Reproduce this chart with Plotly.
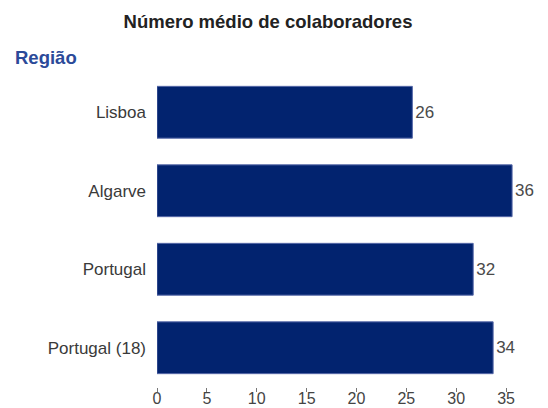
import plotly.graph_objects as go

categories = ["Lisboa", "Algarve", "Portugal", "Portugal (18)"]
values = [25.6, 35.6, 31.7, 33.7]
value_labels = ["26", "36", "32", "34"]
tick_vals = [0, 5, 10, 15, 20, 25, 30, 35, 40]

FONT = "Liberation Sans, Arial, sans-serif"

# page has an 8px body margin, so figure is 540x400 placed at (8, 8)
W, H = 540, 400
L, T, B = 149, 65, 21
PW, PH = W - L, H - T - B

fig = go.Figure(go.Bar(
    x=values,
    y=categories,
    orientation="h",
    text=value_labels,
    textposition="outside",
    cliponaxis=False,
    textfont=dict(family=FONT, size=17, color="#4a4a4a"),
    marker=dict(color="#02236f", line=dict(color="#5668a8", width=1)),
))

fig.update_layout(
    width=W, height=H,
    margin=dict(l=L, r=0, t=T, b=B),
    paper_bgcolor="white", plot_bgcolor="white",
    bargap=0.34,
    showlegend=False,
    font=dict(family=FONT, size=17, color="#333333"),
    title=dict(text="<b>Número médio de colaboradores</b>", x=260 / W, xanchor="center",
               yref="container", y=1 - 14 / H, yanchor="middle",
               font=dict(size=18.5, color="#222222")),
    annotations=[dict(text="<b>Região</b>", xref="paper", yref="paper",
                      x=(5 - L) / PW, y=1 + (T - 49) / PH, xanchor="left", yanchor="middle",
                      showarrow=False, font=dict(size=18.5, color="#2b4a99"))],
)

fig.update_yaxes(
    autorange="reversed", automargin=False,
    showgrid=False, showline=False, zeroline=False,
    ticks="", ticklabelstandoff=10,
    tickfont=dict(size=17, color="#3a3a3a"),
)
fig.update_xaxes(
    range=[0, 39.2], automargin=False,
    tickvals=tick_vals,
    showgrid=False, showline=False, zeroline=False,
    ticks="outside", ticklen=4, tickcolor="#777777",
    ticklabelstandoff=-7,
    tickfont=dict(size=16, color="#444444"),
)

fig.write_html("out.html")
